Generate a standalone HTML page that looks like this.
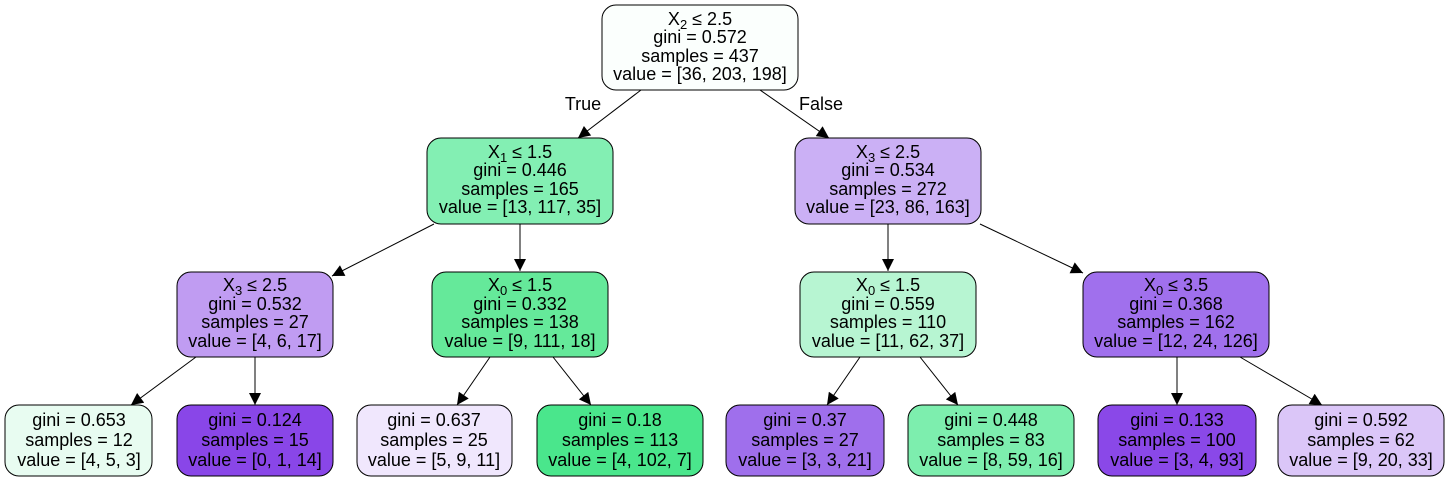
<!DOCTYPE html>
<html><head><meta charset="utf-8"><style>
html,body{margin:0;padding:0;background:#fff;}
svg{display:block;}
text{font-family:"Liberation Sans",sans-serif;font-size:18px;fill:#000;text-anchor:middle;}
.b{stroke:#000;stroke-width:1;}
</style></head><body>
<svg width="1450" height="481" viewBox="0 0 1450 481">
<defs><marker id="a" viewBox="0 0 10 10" refX="10" refY="5" markerWidth="14" markerHeight="12" markerUnits="userSpaceOnUse" orient="auto"><path d="M0,0L10,5L0,10z" fill="#000"/></marker></defs>
<g stroke="#000" stroke-width="1" fill="none">
<line x1="641" y1="90" x2="578" y2="138" marker-end="url(#a)"/>
<line x1="760" y1="90" x2="829" y2="138" marker-end="url(#a)"/>
<line x1="434" y1="224" x2="332" y2="276" marker-end="url(#a)"/>
<line x1="520" y1="224" x2="520" y2="271" marker-end="url(#a)"/>
<line x1="888" y1="224" x2="888" y2="271" marker-end="url(#a)"/>
<line x1="980" y1="224" x2="1083" y2="273" marker-end="url(#a)"/>
<line x1="196" y1="357" x2="131" y2="405" marker-end="url(#a)"/>
<line x1="255" y1="357" x2="255" y2="405" marker-end="url(#a)"/>
<line x1="490" y1="357" x2="457" y2="405" marker-end="url(#a)"/>
<line x1="553" y1="357" x2="591" y2="405" marker-end="url(#a)"/>
<line x1="860" y1="357" x2="827" y2="405" marker-end="url(#a)"/>
<line x1="920" y1="357" x2="958" y2="405" marker-end="url(#a)"/>
<line x1="1177" y1="357" x2="1177" y2="405" marker-end="url(#a)"/>
<line x1="1240" y1="357" x2="1322" y2="405" marker-end="url(#a)"/>
</g>
<text x="583" y="110">True</text>
<text x="821" y="110">False</text>

<rect class="b" x="602" y="5" width="196" height="85" rx="14" fill="#fbfffd"/>
<text x="700" y="25">X<tspan font-size="13" dy="4">2</tspan><tspan dy="-4"> ≤ 2.5</tspan></text>
<text x="700" y="43">gini = 0.572</text><text x="700" y="62">samples = 437</text><text x="700" y="80">value = [36, 203, 198]</text>

<rect class="b" x="427" y="138" width="186" height="86" rx="14" fill="#83efb3"/>
<text x="520" y="158">X<tspan font-size="13" dy="4">1</tspan><tspan dy="-4"> ≤ 1.5</tspan></text>
<text x="520" y="176">gini = 0.446</text><text x="520" y="195">samples = 165</text><text x="520" y="213">value = [13, 117, 35]</text>

<rect class="b" x="795" y="138" width="186" height="86" rx="14" fill="#cbb0f5"/>
<text x="888" y="158">X<tspan font-size="13" dy="4">3</tspan><tspan dy="-4"> ≤ 2.5</tspan></text>
<text x="888" y="176">gini = 0.534</text><text x="888" y="195">samples = 272</text><text x="888" y="213">value = [23, 86, 163]</text>

<rect class="b" x="177" y="272" width="156" height="85" rx="14" fill="#c09cf2"/>
<text x="255" y="291">X<tspan font-size="13" dy="4">3</tspan><tspan dy="-4"> ≤ 2.5</tspan></text>
<text x="255" y="310">gini = 0.532</text><text x="255" y="328">samples = 27</text><text x="255" y="347">value = [4, 6, 17]</text>

<rect class="b" x="432" y="272" width="176" height="85" rx="14" fill="#65e99a"/>
<text x="520" y="291">X<tspan font-size="13" dy="4">0</tspan><tspan dy="-4"> ≤ 1.5</tspan></text>
<text x="520" y="310">gini = 0.332</text><text x="520" y="328">samples = 138</text><text x="520" y="347">value = [9, 111, 18]</text>

<rect class="b" x="800" y="272" width="176" height="85" rx="14" fill="#b7f5d2"/>
<text x="888" y="291">X<tspan font-size="13" dy="4">0</tspan><tspan dy="-4"> ≤ 1.5</tspan></text>
<text x="888" y="310">gini = 0.559</text><text x="888" y="328">samples = 110</text><text x="888" y="347">value = [11, 62, 37]</text>

<rect class="b" x="1083" y="272" width="186" height="85" rx="14" fill="#a070ed"/>
<text x="1176" y="291">X<tspan font-size="13" dy="4">0</tspan><tspan dy="-4"> ≤ 3.5</tspan></text>
<text x="1176" y="310">gini = 0.368</text><text x="1176" y="328">samples = 162</text><text x="1176" y="347">value = [12, 24, 126]</text>

<rect class="b" x="5" y="405" width="147" height="71" rx="14" fill="#e8fcf1"/>
<text x="79" y="426">gini = 0.653</text><text x="79" y="446">samples = 12</text><text x="79" y="466">value = [4, 5, 3]</text>

<rect class="b" x="177" y="405" width="156" height="71" rx="14" fill="#8946e8"/>
<text x="255" y="426">gini = 0.124</text><text x="255" y="446">samples = 15</text><text x="255" y="466">value = [0, 1, 14]</text>

<rect class="b" x="357" y="405" width="155" height="71" rx="14" fill="#f0e7fd"/>
<text x="434" y="426">gini = 0.637</text><text x="434" y="446">samples = 25</text><text x="434" y="466">value = [5, 9, 11]</text>

<rect class="b" x="537" y="405" width="166" height="71" rx="14" fill="#4ae68c"/>
<text x="620" y="426">gini = 0.18</text><text x="620" y="446">samples = 113</text><text x="620" y="466">value = [4, 102, 7]</text>

<rect class="b" x="726" y="405" width="158" height="71" rx="14" fill="#9f6fec"/>
<text x="805" y="426">gini = 0.37</text><text x="805" y="446">samples = 27</text><text x="805" y="466">value = [3, 3, 21]</text>

<rect class="b" x="908" y="405" width="166" height="71" rx="14" fill="#7deeae"/>
<text x="991" y="426">gini = 0.448</text><text x="991" y="446">samples = 83</text><text x="991" y="466">value = [8, 59, 16]</text>

<rect class="b" x="1098" y="405" width="158" height="71" rx="14" fill="#8a48e8"/>
<text x="1177" y="426">gini = 0.133</text><text x="1177" y="446">samples = 100</text><text x="1177" y="466">value = [3, 4, 93]</text>

<rect class="b" x="1278" y="405" width="166" height="71" rx="14" fill="#dbc6f8"/>
<text x="1361" y="426">gini = 0.592</text><text x="1361" y="446">samples = 62</text><text x="1361" y="466">value = [9, 20, 33]</text>
</svg>
</body></html>
